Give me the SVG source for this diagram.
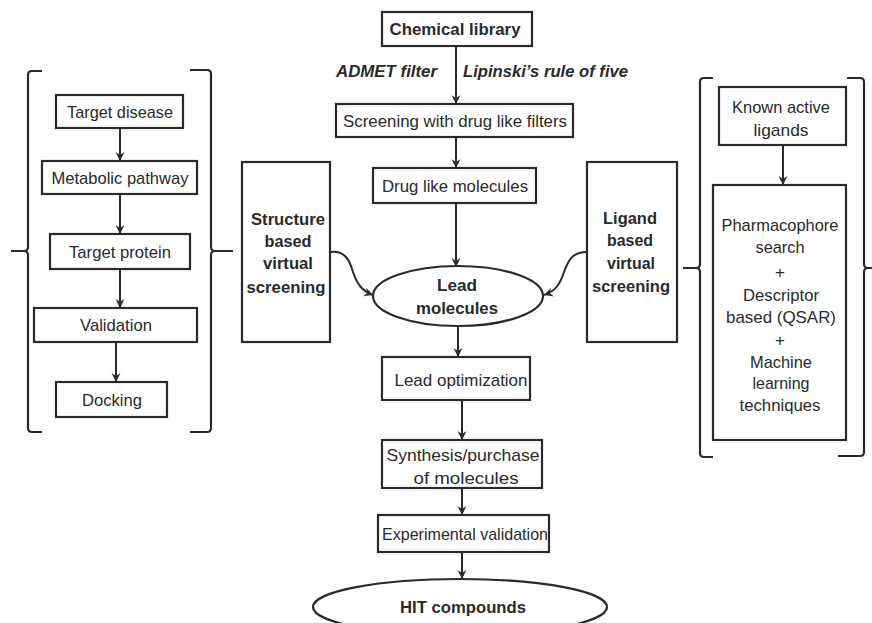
<svg xmlns="http://www.w3.org/2000/svg" width="872" height="623" viewBox="0 0 872 623">
<defs>
<style>
.box{fill:#fff;stroke:#2a2a2a;stroke-width:2.2}
.br{fill:none;stroke:#2a2a2a;stroke-width:2.2}
.ln{fill:none;stroke:#2a2a2a;stroke-width:2;marker-end:url(#ah)}
text{font-family:"Liberation Sans",Arial,sans-serif;font-size:17px;fill:#2a2a2a;text-anchor:middle}
.b{font-weight:bold}
.i{font-style:italic;font-weight:bold;text-anchor:start}
</style>
<marker id="ah" markerWidth="10" markerHeight="10" refX="9" refY="5" orient="auto" markerUnits="userSpaceOnUse">
<path d="M0,0.5 L9,5 L0,9.5 L3,5 z" fill="#2a2a2a"/>
</marker>
</defs>
<rect width="872" height="623" fill="#fff"/>

<g id="connectors">
<line class="ln" x1="120" y1="128" x2="120" y2="161"/>
<line class="ln" x1="120" y1="194" x2="120" y2="234"/>
<line class="ln" x1="120" y1="269" x2="120" y2="308"/>
<line class="ln" x1="116" y1="342" x2="116" y2="382"/>
<line class="ln" x1="456" y1="46" x2="456" y2="104"/>
<line class="ln" x1="456" y1="137" x2="456" y2="168"/>
<line class="ln" x1="456" y1="203" x2="456" y2="267"/>
<line class="ln" x1="458" y1="326" x2="458" y2="357"/>
<line class="ln" x1="462" y1="400" x2="462" y2="440"/>
<line class="ln" x1="462" y1="488" x2="462" y2="515"/>
<line class="ln" x1="462" y1="552" x2="462" y2="579"/>
<line class="ln" x1="783" y1="145" x2="783" y2="185"/>
<path class="ln" d="M330,252 C346,250 350,262 353,272 C357,284 362,291 373,295"/>
<path class="ln" d="M587,252 C571,252 568,262 564,272 C560,284 556,291 544,295"/>
</g>

<g id="brackets">
<path class="br" d="M42,71 L32,71 Q28,71 28,75 L28,247 Q28,251 24,251 L11,251 M24,251 Q28,251 28,255 L28,428 Q28,432 32,432 L42,432"/>
<path class="br" d="M190,70 L207,70 Q211,70 211,74 L211,247 Q211,251 215,251 L233,251 M215,251 Q211,251 211,255 L211,428 Q211,432 207,432 L190,432"/>
<path class="br" d="M713,78 L704,78 Q700,78 700,82 L700,264 Q700,268 696,268 L683,268 M696,268 Q700,268 700,272 L700,453 Q700,457 704,457 L713,457"/>
<path class="br" d="M847,78 L860,78 Q864,78 864,82 L864,264 Q864,268 868,268 L872,268 M868,268 Q864,268 864,272 L864,452 Q864,456 860,456 L838,456"/>
</g>

<g id="target-disease"><rect class="box" x="56" y="95" width="127" height="33"/><text x="120" y="118" textLength="106" lengthAdjust="spacingAndGlyphs">Target disease</text></g>
<g id="metabolic-pathway"><rect class="box" x="42" y="161" width="155" height="33"/><text x="120" y="184" textLength="137" lengthAdjust="spacingAndGlyphs">Metabolic pathway</text></g>
<g id="target-protein"><rect class="box" x="50" y="234" width="140" height="35"/><text x="120" y="258" textLength="102" lengthAdjust="spacingAndGlyphs">Target protein</text></g>
<g id="validation"><rect class="box" x="34" y="308" width="163" height="34"/><text x="116" y="331" textLength="72" lengthAdjust="spacingAndGlyphs">Validation</text></g>
<g id="docking"><rect class="box" x="56" y="382" width="111" height="35"/><text x="112" y="406" textLength="60" lengthAdjust="spacingAndGlyphs">Docking</text></g>

<g id="chemical-library"><rect class="box" x="382" y="12" width="150" height="34"/><text class="b" x="455" y="35" textLength="131" lengthAdjust="spacingAndGlyphs">Chemical library</text></g>
<g id="filter-labels">
<text class="i" x="336" y="77" textLength="101" lengthAdjust="spacingAndGlyphs">ADMET filter</text>
<text class="i" x="463" y="77" textLength="165" lengthAdjust="spacingAndGlyphs">Lipinski’s rule of five</text>
</g>
<g id="screening"><rect class="box" x="336" y="104" width="237" height="33"/><text x="455" y="127" textLength="224" lengthAdjust="spacingAndGlyphs">Screening with drug like filters</text></g>
<g id="drug-like"><rect class="box" x="373" y="168" width="163" height="35"/><text x="455" y="192" textLength="146" lengthAdjust="spacingAndGlyphs">Drug like molecules</text></g>

<g id="structure-based"><rect class="box" x="242" y="162" width="88" height="180"/>
<text class="b" x="288" y="225" textLength="74" lengthAdjust="spacingAndGlyphs">Structure</text>
<text class="b" x="288" y="247" textLength="47" lengthAdjust="spacingAndGlyphs">based</text>
<text class="b" x="288" y="269" textLength="50" lengthAdjust="spacingAndGlyphs">virtual</text>
<text class="b" x="286" y="293" textLength="79" lengthAdjust="spacingAndGlyphs">screening</text>
</g>

<g id="lead-molecules"><ellipse class="box" cx="458" cy="296" rx="85" ry="30"/>
<text class="b" x="457" y="291" textLength="40" lengthAdjust="spacingAndGlyphs">Lead</text>
<text class="b" x="457" y="314" textLength="82" lengthAdjust="spacingAndGlyphs">molecules</text>
</g>

<g id="ligand-based"><rect class="box" x="587" y="162" width="90" height="180"/>
<text class="b" x="630" y="224" textLength="54" lengthAdjust="spacingAndGlyphs">Ligand</text>
<text class="b" x="630" y="246" textLength="46" lengthAdjust="spacingAndGlyphs">based</text>
<text class="b" x="631" y="269" textLength="48" lengthAdjust="spacingAndGlyphs">virtual</text>
<text class="b" x="631" y="292" textLength="78" lengthAdjust="spacingAndGlyphs">screening</text>
</g>

<g id="known-active"><rect class="box" x="719" y="87" width="127" height="58"/>
<text x="781" y="113" textLength="98" lengthAdjust="spacingAndGlyphs">Known active</text>
<text x="781" y="136" textLength="55" lengthAdjust="spacingAndGlyphs">ligands</text>
</g>

<g id="methods"><rect class="box" x="713" y="185" width="133" height="255"/>
<text x="780" y="231" textLength="117" lengthAdjust="spacingAndGlyphs">Pharmacophore</text>
<text x="780" y="253" textLength="49" lengthAdjust="spacingAndGlyphs">search</text>
<text x="780" y="278">+</text>
<text x="781" y="301" textLength="76" lengthAdjust="spacingAndGlyphs">Descriptor</text>
<text x="781" y="323" textLength="110" lengthAdjust="spacingAndGlyphs">based (QSAR)</text>
<text x="780" y="346">+</text>
<text x="781" y="368" textLength="62" lengthAdjust="spacingAndGlyphs">Machine</text>
<text x="781" y="389" textLength="57" lengthAdjust="spacingAndGlyphs">learning</text>
<text x="780" y="411" textLength="81" lengthAdjust="spacingAndGlyphs">techniques</text>
</g>

<g id="lead-optimization"><rect class="box" x="382" y="357" width="148" height="43"/><text x="461" y="386" textLength="133" lengthAdjust="spacingAndGlyphs">Lead optimization</text></g>
<g id="synthesis"><rect class="box" x="382" y="440" width="160" height="48"/>
<text x="463" y="461" textLength="153" lengthAdjust="spacingAndGlyphs">Synthesis/purchase</text>
<text x="466" y="484" textLength="105" lengthAdjust="spacingAndGlyphs">of molecules</text>
</g>
<g id="experimental-validation"><rect class="box" x="378" y="515" width="171" height="37"/><text x="465" y="540" textLength="166" lengthAdjust="spacingAndGlyphs">Experimental validation</text></g>
<g id="hit-compounds"><ellipse class="box" cx="460" cy="607" rx="147" ry="28"/><text class="b" x="463" y="613" textLength="126" lengthAdjust="spacingAndGlyphs">HIT compounds</text></g>
</svg>
